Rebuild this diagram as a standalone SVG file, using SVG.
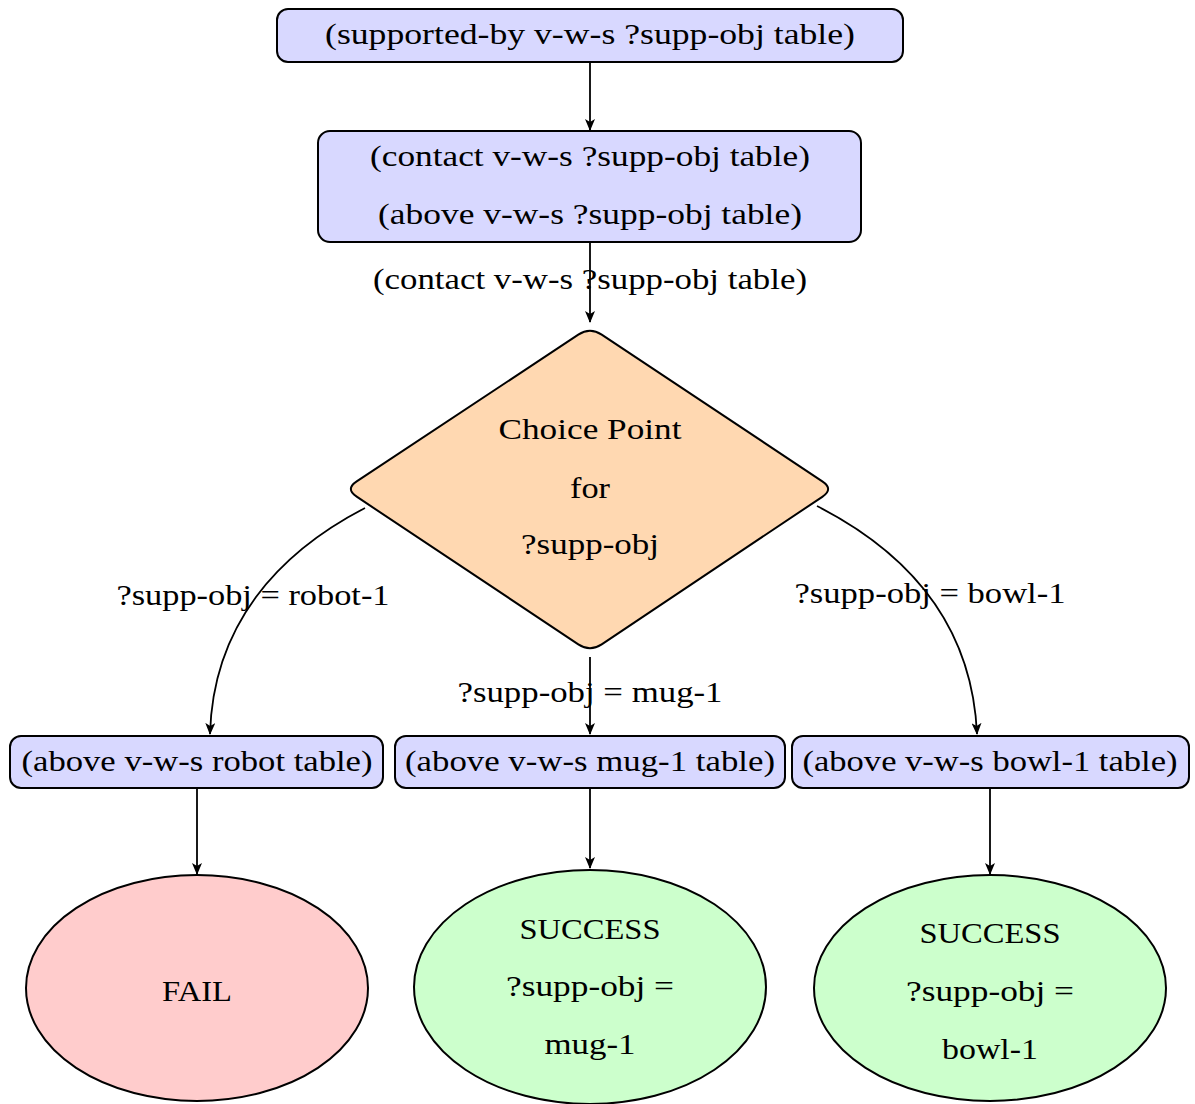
<svg xmlns="http://www.w3.org/2000/svg" width="1195" height="1104" viewBox="0 0 1195 1104">
<defs>
<marker id="arr" viewBox="0 0 12 10" refX="11" refY="5" markerWidth="12" markerHeight="10" markerUnits="userSpaceOnUse" orient="auto">
<path d="M0,0 L12,5 L0,10 L3,5 Z" fill="#000"/>
</marker>
<style>
text{font-family:"Liberation Serif","Times New Roman",serif;font-size:30px;fill:#000;text-anchor:middle}
.box{fill:#D8D8FF;stroke:#000;stroke-width:2}
.dia{fill:#FFD8B1;stroke:#000;stroke-width:2}
.fail{fill:#FFCCCC;stroke:#000;stroke-width:2}
.ok{fill:#CCFFCC;stroke:#000;stroke-width:2}
.edge{fill:none;stroke:#000;stroke-width:1.8;marker-end:url(#arr)}
</style>
</defs>
<rect width="1195" height="1104" fill="#fff"/>
<g id="connectors">
<path class="edge" d="M590,62 L590,130"/>
<path class="edge" d="M590,242 L590,322"/>
<path class="edge" d="M365,508 C278,553 213,625 210,734"/>
<path class="edge" d="M817,506 C905,551 972,622 977,734"/>
<path class="edge" d="M590,657 L590,734"/>
<path class="edge" d="M197,788 L197,874"/>
<path class="edge" d="M590,788 L590,868"/>
<path class="edge" d="M990,788 L990,874"/>
<text x="590" y="289" textLength="434" lengthAdjust="spacingAndGlyphs">(contact v-w-s ?supp-obj table)</text>
<text x="253" y="605" textLength="273" lengthAdjust="spacingAndGlyphs">?supp-obj = robot-1</text>
<text x="930" y="603" textLength="271" lengthAdjust="spacingAndGlyphs">?supp-obj = bowl-1</text>
<text x="590" y="702" textLength="265" lengthAdjust="spacingAndGlyphs">?supp-obj = mug-1</text>
</g>
<g id="n-supported">
<rect class="box" x="277" y="9" width="626" height="53" rx="11"/>
<text x="590" y="44" textLength="530" lengthAdjust="spacingAndGlyphs">(supported-by v-w-s ?supp-obj table)</text>
</g>
<g id="n-contact-above">
<rect class="box" x="318" y="131" width="543" height="111" rx="12"/>
<text x="590" y="166" textLength="440" lengthAdjust="spacingAndGlyphs">(contact v-w-s ?supp-obj table)</text>
<text x="590" y="224" textLength="424" lengthAdjust="spacingAndGlyphs">(above v-w-s ?supp-obj table)</text>
</g>
<g id="n-choice">
<path class="dia" d="M601.7,334.7 L822.3,481.3 Q834,489 822.3,496.8 L601.7,644.3 Q590,652 578.3,644.3 L356.7,496.7 Q345,489 356.7,481.3 L578.3,334.7 Q590,327 601.7,334.7 Z"/>
<text x="590" y="439" textLength="183" lengthAdjust="spacingAndGlyphs">Choice Point</text>
<text x="590" y="498" textLength="40" lengthAdjust="spacingAndGlyphs">for</text>
<text x="590" y="554" textLength="138" lengthAdjust="spacingAndGlyphs">?supp-obj</text>
</g>
<g id="n-above-robot">
<rect class="box" x="10" y="736" width="373" height="52" rx="11"/>
<text x="197" y="771" textLength="351" lengthAdjust="spacingAndGlyphs">(above v-w-s robot table)</text>
</g>
<g id="n-above-mug">
<rect class="box" x="395" y="736" width="390" height="52" rx="11"/>
<text x="590" y="771" textLength="370" lengthAdjust="spacingAndGlyphs">(above v-w-s mug-1 table)</text>
</g>
<g id="n-above-bowl">
<rect class="box" x="792" y="736" width="397" height="52" rx="11"/>
<text x="990" y="771" textLength="375" lengthAdjust="spacingAndGlyphs">(above v-w-s bowl-1 table)</text>
</g>
<g id="n-fail">
<ellipse class="fail" cx="197" cy="988" rx="171" ry="113"/>
<text x="197" y="1001" textLength="70" lengthAdjust="spacingAndGlyphs">FAIL</text>
</g>
<g id="n-success-mug">
<ellipse class="ok" cx="590" cy="987" rx="176" ry="117"/>
<text x="590" y="939" textLength="141" lengthAdjust="spacingAndGlyphs">SUCCESS</text>
<text x="590" y="996" textLength="168" lengthAdjust="spacingAndGlyphs">?supp-obj =</text>
<text x="590" y="1054" textLength="91" lengthAdjust="spacingAndGlyphs">mug-1</text>
</g>
<g id="n-success-bowl">
<ellipse class="ok" cx="990" cy="988" rx="176" ry="113"/>
<text x="990" y="943" textLength="141" lengthAdjust="spacingAndGlyphs">SUCCESS</text>
<text x="990" y="1001" textLength="168" lengthAdjust="spacingAndGlyphs">?supp-obj =</text>
<text x="990" y="1059" textLength="96" lengthAdjust="spacingAndGlyphs">bowl-1</text>
</g>
</svg>
